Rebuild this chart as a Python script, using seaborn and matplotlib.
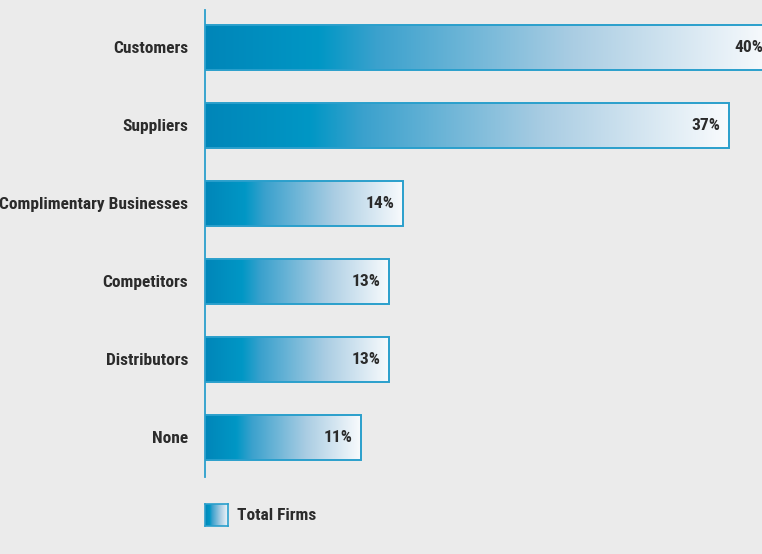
import numpy as np
import pandas as pd
import matplotlib
matplotlib.use("Agg")
import matplotlib.pyplot as plt
from matplotlib.colors import LinearSegmentedColormap
from matplotlib import font_manager
import seaborn as sns

categories = ["Customers", "Suppliers", "Complimentary Businesses",
              "Competitors", "Distributors", "None"]
values = [40, 37, 14, 13, 13, 11]
value_labels = ["40%", "37%", "14%", "13%", "13%", "11%"]
legend_label = "Total Firms"

BG = "#ebebeb"
EDGE = "#2a9fcc"
TEXT = "#2b2b2b"

sns.set_theme(style="white")
installed = {f.name for f in font_manager.fontManager.ttflist}
narrow = [n for n in ["Liberation Sans Narrow", "DejaVu Sans Condensed",
                      "Roboto Condensed", "Open Sans Condensed",
                      "Noto Sans Condensed", "Noto Sans Display"] if n in installed]
plt.rcParams["font.family"] = narrow + ["Roboto", "DejaVu Sans"]
plt.rcParams["font.weight"] = "bold"
FS = 12.5 if narrow else 11.3

cmap = LinearSegmentedColormap.from_list(
    "fade",
    [(0.0, "#0086b9"), (0.2, "#0097c5"), (0.3, "#3aa1cd"),
     (0.65, "#aacde3"), (1.0, "#f9fbfd")])

df = pd.DataFrame({"category": categories, "value": values})

fig = plt.figure(figsize=(7.62, 5.54), dpi=100, facecolor=BG)
ax = fig.add_axes([205 / 762, 1 - 477 / 554, 1 - 205 / 762, 467 / 554])
ax.set_facecolor(BG)

sns.barplot(data=df, x="value", y="category", orient="h", ax=ax,
            width=0.577, color="white", edgecolor=EDGE, linewidth=1.4,
            saturation=1)

ax.set_xlim(0, 39.35)
ax.set_ylim(5.51, -0.48)

grad = np.linspace(0, 1, 256).reshape(1, -1)
for patch, label in zip(ax.patches, value_labels):
    x0, y0 = patch.get_x(), patch.get_y()
    w, h = patch.get_width(), patch.get_height()
    im = ax.imshow(grad, cmap=cmap, aspect="auto",
                   extent=(x0, x0 + w, y0 + h, y0), zorder=patch.get_zorder() - 0.1,
                   interpolation="bicubic")
    im.set_clip_path(patch)
    patch.set_facecolor("none")
    patch.set_zorder(patch.get_zorder() + 0.2)
    ax.annotate(label, xy=(x0 + w, y0 + h / 2), xytext=(-6, 0),
                textcoords="offset points", ha="right", va="center",
                fontsize=FS, fontweight="bold", color=TEXT, zorder=5,
                annotation_clip=False)

ax.set_xlabel("")
ax.set_ylabel("")
ax.set_xticks([])
ax.tick_params(axis="y", length=0, pad=12, labelsize=FS, labelcolor=TEXT)
for lbl in ax.get_yticklabels():
    lbl.set_fontweight("bold")
for side in ["top", "right", "bottom"]:
    ax.spines[side].set_visible(False)
ax.spines["left"].set_color(EDGE)
ax.spines["left"].set_linewidth(1.3)

# legend swatch
lax = fig.add_axes([205 / 762, 1 - 526 / 554, 23 / 762, 22 / 554])
lax.imshow(grad, cmap=cmap, aspect="auto", extent=(0, 1, 0, 1))
lax.set_xticks([])
lax.set_yticks([])
for s in lax.spines.values():
    s.set_color(EDGE)
    s.set_linewidth(1.2)
fig.text(237 / 762, 1 - 515 / 554, legend_label, ha="left", va="center",
         fontsize=FS, fontweight="bold", color=TEXT)

fig.savefig("out.png", dpi=100, facecolor=BG)
